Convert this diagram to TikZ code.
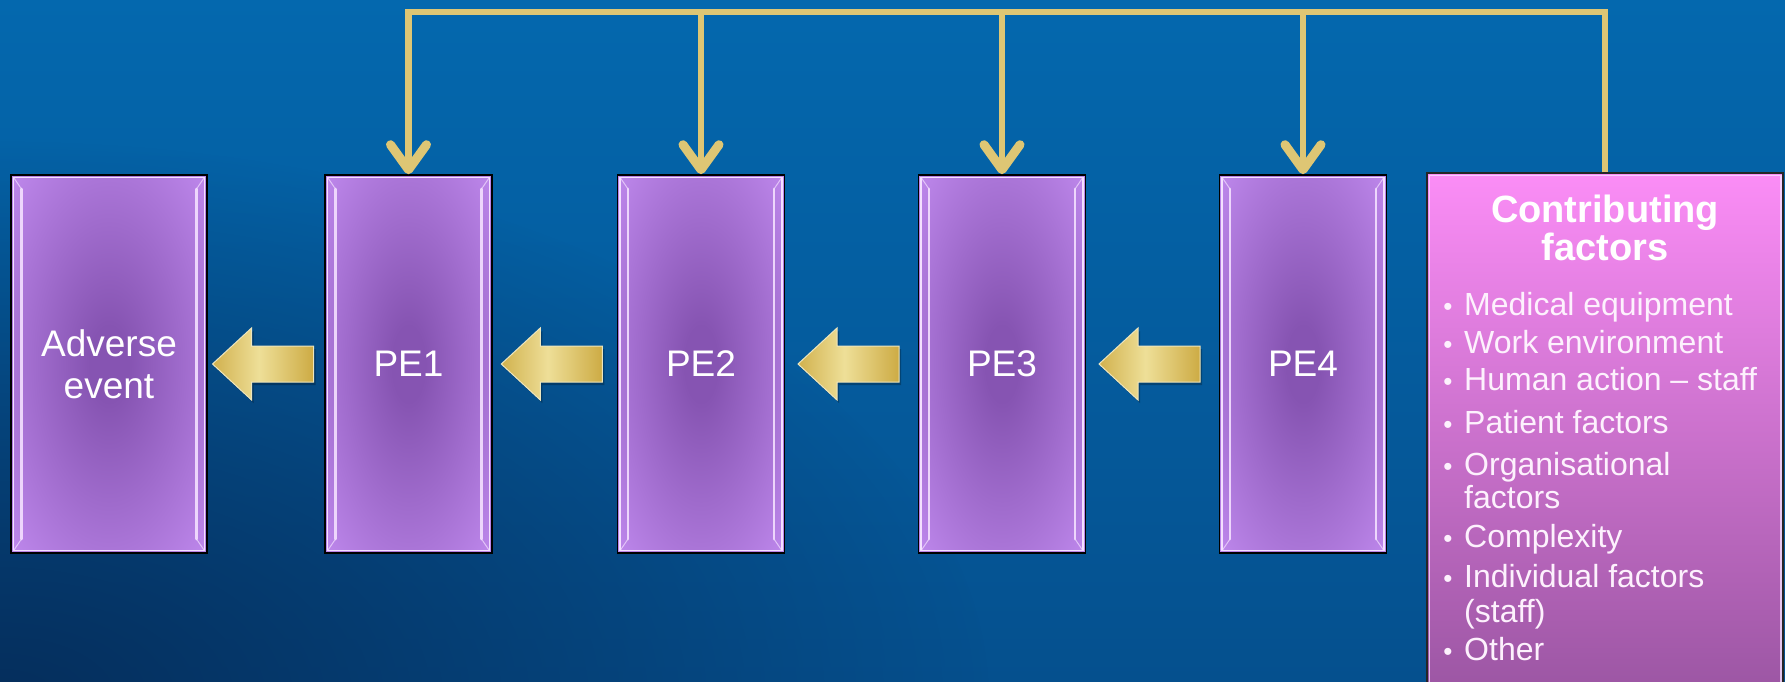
\documentclass[tikz,border=0pt]{standalone}
\usepackage{fontspec}
\setmainfont{Liberation Sans}
\usetikzlibrary{calc,arrows.meta,fadings}

% palette
\definecolor{bgTop}{HTML}{0468AE}
\definecolor{bgBot}{HTML}{05508E}
\definecolor{bgDark}{HTML}{062E5C}
\definecolor{peCen}{HTML}{8654B2}
\definecolor{peOut}{HTML}{C38CF1}
\definecolor{peEdge}{HTML}{F4E0FF}
\definecolor{cfTop}{HTML}{FB8DF6}
\definecolor{cfBot}{HTML}{9A55A2}
\definecolor{cfText}{HTML}{FDF1FD}
\definecolor{goldD}{HTML}{CDAB44}
\definecolor{goldM}{HTML}{DEC674}
\definecolor{goldL}{HTML}{EEDF98}
\definecolor{goldEdge}{HTML}{ECE6C0}

% soft dark centre for the process boxes
\pgfdeclareradialshading{peshade}{\pgfpoint{0bp}{0bp}}{%
  color(0bp)=(peCen); color(5bp)=(peCen); color(38bp)=(peOut); color(72bp)=(peOut)}
% glossy gold for the block arrows
\pgfdeclarehorizontalshading{goldshade}{100bp}{%
  color(0bp)=(goldM); color(22bp)=(goldD); color(48bp)=(goldL);
  color(75bp)=(goldD); color(100bp)=(goldL)}
% darkening towards the lower left corner
\tikzfading[name=cornerfade, inner color=transparent!0, outer color=transparent!100]

\tikzset{
  bevel/.style={
    path picture={
      \draw[peEdge, line width=1.6pt]
        ($(path picture bounding box.south west)+(2.4pt,2.4pt)$) rectangle
        ($(path picture bounding box.north east)+(-2.4pt,-2.4pt)$);
      \draw[peEdge, line width=2.8pt, opacity=.9, line cap=round]
        ($(path picture bounding box.north west)+(10.5pt,-14pt)$) --
        ($(path picture bounding box.south west)+(10.5pt,14pt)$);
      \draw[peEdge, line width=2.8pt, opacity=.9, line cap=round]
        ($(path picture bounding box.north east)+(-10.5pt,-14pt)$) --
        ($(path picture bounding box.south east)+(-10.5pt,14pt)$);
      \draw[peEdge, line width=1pt, opacity=.7]
        ($(path picture bounding box.north west)+(3pt,-3pt)$) -- ++(7.5pt,-11pt)
        ($(path picture bounding box.south west)+(3pt,3pt)$) -- ++(7.5pt,11pt)
        ($(path picture bounding box.north east)+(-3pt,-3pt)$) -- ++(-7.5pt,-11pt)
        ($(path picture bounding box.south east)+(-3pt,3pt)$) -- ++(-7.5pt,11pt);
    }},
  pebox/.style={draw=black, line width=1.6pt, shading=peshade, bevel,
    minimum width=167pt, minimum height=378pt, inner sep=0pt,
    text=white, align=center, font=\fontsize{37}{42}\selectfont},
  cfbox/.style={draw=black!85, line width=1.4pt,
    top color=cfTop, bottom color=cfBot,
    minimum width=356pt, minimum height=526pt, inner sep=0pt,
    path picture={
      \draw[peEdge, line width=1.4pt, opacity=.8]
        ($(path picture bounding box.south west)+(2.2pt,2.2pt)$) rectangle
        ($(path picture bounding box.north east)+(-2.2pt,-2.2pt)$);
    }},
  cftitle/.style={anchor=base, text=white, font=\bfseries\fontsize{38}{40}\selectfont, inner sep=0pt},
  cfitem/.style={anchor=base west, text=cfText, font=\fontsize{32}{36}\selectfont, inner sep=0pt},
  cfbullet/.style={anchor=base, text=cfText, font=\fontsize{26}{26}\selectfont, inner sep=0pt},
  goldline/.style={draw=goldM, line width=6.5pt},
  downtip/.style={-{Straight Barb[length=25pt, width=36pt, line width=9pt, round]}},
  blockarrow/.style={shading=goldshade, draw=goldEdge, line width=1pt, line join=miter},
}

% block arrow pointing left, centred in the gap between two boxes
\newcommand\leftblockarrow[2]{%
  \coordinate (#1-#2) at ($(#1.east)!0.5!(#2.west)+(-3pt,0pt)$);
  \fill[black, opacity=.25]
    ($(#1-#2)+(-48.5pt,-3pt)$) -- ++(39pt,36pt) -- ++(0pt,-18pt) -- ++(62pt,0pt)
    -- ++(0pt,-36pt) -- ++(-62pt,0pt) -- ++(0pt,-18pt) -- cycle;
  \filldraw[blockarrow]
    ($(#1-#2)+(-50.5pt,0pt)$) -- ++(39pt,36pt) -- ++(0pt,-18pt) -- ++(62pt,0pt)
    -- ++(0pt,-36pt) -- ++(-62pt,0pt) -- ++(0pt,-18pt) -- cycle;
}

\begin{document}
\begin{tikzpicture}[x=1pt,y=-1pt]
\useasboundingbox (0,0) rectangle (1785,681);
\clip (0,0) rectangle (1785,681);

% background
\shade[top color=bgTop, bottom color=bgBot] (0,0) rectangle (1785,681);
\fill[bgDark, path fading=cornerfade] (0,700) ellipse [x radius=1000pt, y radius=560pt];

% chain of events
\node[pebox, minimum width=196pt] (ae) at (109,364) {Adverse\\event};
\node[pebox] (pe1) at (408.5,364) {PE1};
\node[pebox] (pe2) at (701,364) {PE2};
\node[pebox] (pe3) at (1002,364) {PE3};
\node[pebox] (pe4) at (1303,364) {PE4};

\leftblockarrow{ae}{pe1}
\leftblockarrow{pe1}{pe2}
\leftblockarrow{pe2}{pe3}
\leftblockarrow{pe3}{pe4}

% contributing factors panel
\node[cfbox] (cf) at (1605,436) {};
\node[cftitle] (cft1) at (1605,222) {Contributing};
\node[cftitle] (cft2) at (1605,260) {factors};

\foreach \txt/\yb [count=\i] in {Medical equipment/315, Work environment/353,
    Human action \textendash\ staff/390, Patient factors/433, Organisational/475,
    Complexity/547, Individual factors/587, Other/660}{
  \node[cfbullet] (cfb\i) at (1448,\yb) {•};
  \node[cfitem] (cfi\i) at (1464,\yb) {\txt};
}
\node[cfitem] (cfc1) at (1464,508) {factors};
\node[cfitem] (cfc2) at (1464,622) {(staff)};

% feedback bus from the factors to every precursor event
\coordinate (bus) at (0,12);
\draw[goldline, downtip] (cf.north) -- (cf.north |- bus) -- (pe1.north |- bus) -- (pe1.north);
\draw[goldline, downtip] (pe2.north |- bus) -- (pe2.north);
\draw[goldline, downtip] (pe3.north |- bus) -- (pe3.north);
\draw[goldline, downtip] (pe4.north |- bus) -- (pe4.north);
\end{tikzpicture}
\end{document}
